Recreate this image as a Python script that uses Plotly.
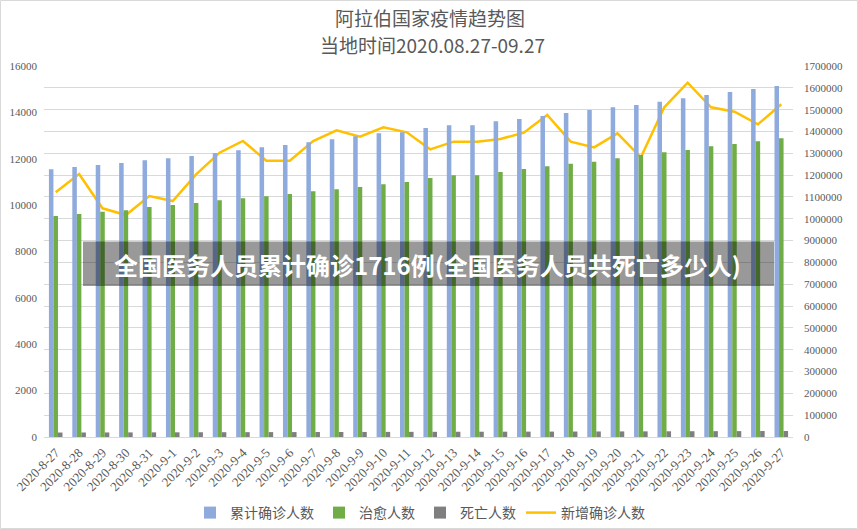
import plotly.graph_objects as go

dates = ["2020-8-27", "2020-8-28", "2020-8-29", "2020-8-30", "2020-8-31"] + [f"2020-9-{d}" for d in range(1, 28)]

confirmed = [1226700, 1237200, 1246400, 1255500, 1267900, 1277000, 1287600, 1301300,
             1313700, 1327500, 1338000, 1350400, 1364100, 1377800, 1391600, 1396200,
             1415900, 1428100, 1428100, 1446500, 1457100, 1470900, 1484600, 1498400,
             1510600, 1521300, 1536400, 1551800, 1567100, 1580900, 1594600, 1608400]

recovered = [1012700, 1021800, 1032500, 1038700, 1053900, 1063100, 1072200, 1084400,
             1093700, 1102900, 1113500, 1125800, 1134900, 1145600, 1157800, 1168500,
             1186800, 1199000, 1199000, 1214300, 1228000, 1240300, 1252500, 1261600,
             1276900, 1292200, 1304400, 1315100, 1331900, 1342600, 1354800, 1368500]

deaths = [20500, 20700, 20900, 21100, 21300, 21500, 21800, 22000,
          22200, 22400, 22600, 22800, 23000, 23200, 23400, 23600,
          23800, 24000, 24200, 24400, 24600, 24800, 25000, 25300,
          25600, 25900, 26200, 26500, 26800, 27000, 27300, 27600]

new_cases = [10553, 11342, 9862, 9574, 10394, 10178, 11328, 12262,
             12766, 11917, 11917, 12766, 13226, 12952, 13355, 13139,
             12406, 12737, 12737, 12852, 13125, 13887, 12737, 12492,
             13097, 12061, 14219, 15280, 14219, 14029, 13484, 14348]

left_ticks = list(range(0, 16001, 2000))
right_ticks = list(range(0, 1700001, 100000))

title1 = "阿拉伯国家疫情趋势图"
title2 = "当地时间2020.08.27-09.27"
banner = "全国医务人员累计确诊1716例(全国医务人员共死亡多少人)"

W, H = 858, 529
L, R, T, B = 44, 65, 66, 92
PW, PH = W - L - R, H - T - B

def px_x(x):
    return (x - L) / PW

def px_y(y):
    return (H - B - y) / PH

tick_font = dict(family="Liberation Serif, DejaVu Serif, serif", size=11, color="#595959")

fig = go.Figure()
fig.add_trace(go.Bar(x=dates, y=confirmed, name="累计确诊人数", yaxis="y2",
                     marker=dict(color="#8faadc", line=dict(width=0))))
fig.add_trace(go.Bar(x=dates, y=recovered, name="治愈人数", yaxis="y2",
                     marker=dict(color="#70ad47", line=dict(width=0))))
fig.add_trace(go.Bar(x=dates, y=deaths, name="死亡人数", yaxis="y2",
                     marker=dict(color="#7f7f7f", line=dict(width=0))))
fig.add_trace(go.Scatter(x=dates, y=new_cases, name="新增确诊人数", yaxis="y",
                         mode="lines", line=dict(color="#ffc000", width=2.5)))

fig.update_layout(
    width=W, height=H,
    margin=dict(l=L, r=R, t=T, b=B, pad=0, autoexpand=False),
    paper_bgcolor="white", plot_bgcolor="white",
    barmode="group", bargap=0.42, bargroupgap=0,
    showlegend=True,
    legend=dict(orientation="h", xref="container", yref="container",
                x=420 / W, xanchor="center", y=1 - 513 / H, yanchor="middle",
                font=dict(family="Noto Sans CJK SC", size=14, color="#595959"),
                traceorder="normal", itemwidth=30, bgcolor="rgba(0,0,0,0)"),
    xaxis=dict(type="category", tickangle=-45, automargin=False,
               tickfont=dict(family="Liberation Serif, serif", size=13, color="#595959"),
               showgrid=False, showline=True, linecolor="#d9d9d9", linewidth=1, ticks="",
               ticklabelstandoff=2, zeroline=False),
    yaxis=dict(range=[0, 16000], tickvals=left_ticks, tickformat="d", showgrid=False, zeroline=False,
               automargin=False, tickfont=tick_font, ticks="", ticklabelstandoff=6, side="left"),
    yaxis2=dict(range=[0, 1700000], tickvals=right_ticks, tickformat="d", overlaying="y", side="right",
                showgrid=True, gridcolor="#d9d9d9", gridwidth=1, zeroline=False, automargin=False,
                tickfont=tick_font, ticks="", ticklabelstandoff=10),
    shapes=[
        dict(type="rect", xref="paper", yref="paper",
             x0=px_x(83), x1=px_x(774), y0=px_y(286), y1=px_y(241.5),
             fillcolor="rgba(0,0,0,0.4)", line=dict(width=0), layer="above"),
        dict(type="rect", xref="paper", yref="paper",
             x0=px_x(0.5), x1=px_x(857.5), y0=px_y(528.5), y1=px_y(0.5),
             fillcolor="rgba(0,0,0,0)", line=dict(color="#d9d9d9", width=1), layer="above"),
    ],
    annotations=[
        dict(text=title1, xref="paper", yref="paper", x=px_x(430), y=px_y(18),
             xanchor="center", yanchor="middle", showarrow=False,
             font=dict(family="Noto Sans CJK SC", size=19, color="#595959")),
        dict(text=title2, xref="paper", yref="paper", x=px_x(432), y=px_y(44),
             xanchor="center", yanchor="middle", showarrow=False,
             font=dict(family="Noto Sans CJK SC", size=19, color="#595959")),
        dict(text=banner, xref="paper", yref="paper", x=px_x(427), y=px_y(264),
             xanchor="center", yanchor="middle", showarrow=False,
             font=dict(family="Noto Sans CJK SC", size=24, color="white", weight="bold")),
    ],
)

fig.write_html("out.html")
